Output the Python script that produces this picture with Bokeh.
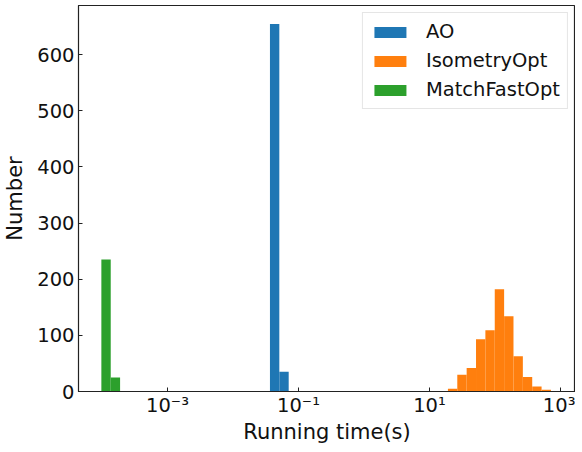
import numpy as np
from bokeh.plotting import figure
from bokeh.models import ColumnDataSource, Range1d, FixedTicker
from bokeh.embed import file_html
from bokeh.resources import INLINE

# ---- data (histogram counts on common log-spaced bins) ----
log_bin_start = -4.01      # log10 of first bin edge (s)
log_bin_width = 0.143      # bin width in decades
series_names = ["AO", "IsometryOpt", "MatchFastOpt"]
series_colors = ["#1f77b4", "#ff7f0e", "#2ca02c"]

ao_bins = [18, 19]
ao_counts = [655, 35]

iso_bins = [37, 38, 39, 40, 41, 42, 43, 44, 45, 46, 47]
iso_counts = [5, 30, 42, 93, 109, 182, 134, 63, 26, 9, 3]

mfo_bins = [0, 1]
mfo_counts = [235, 25]

x_ticks = [1e-3, 1e-1, 1e1, 1e3]
x_tick_labels = ["10\u207b\u00b3", "10\u207b\u00b9", "10\u00b9", "10\u00b3"]
y_ticks = [0, 100, 200, 300, 400, 500, 600]

FONT = "DejaVu Sans"
TICK_FS = "19.5px"
LABEL_FS = "21px"
LEGEND_FS = "19.5px"

FRAME_W = 497
DECADE_PX = 65.5
x_lo = -4.359
x_hi = x_lo + FRAME_W / DECADE_PX

p = figure(
    x_axis_type="log",
    output_backend="svg",
    toolbar_location=None,
    width=566,
    height=436,
    frame_width=FRAME_W,
    frame_height=386,
    min_border_left=69,
    min_border_top=5,
    min_border_right=0,
    min_border_bottom=45,
    x_range=Range1d(10 ** x_lo, 10 ** x_hi),
    y_range=Range1d(0, 655 * 1.05),
)

for name, color, bins, counts in zip(
    series_names, series_colors,
    [ao_bins, iso_bins, mfo_bins],
    [ao_counts, iso_counts, mfo_counts],
):
    b = np.array(bins, dtype=float)
    src = ColumnDataSource(dict(
        left=10 ** (log_bin_start + b * log_bin_width),
        right=10 ** (log_bin_start + (b + 1) * log_bin_width),
        top=np.array(counts, dtype=float),
        bottom=np.zeros(len(counts)),
    ))
    p.quad(left="left", right="right", top="top", bottom="bottom", source=src,
           fill_color=color, line_color=None, legend_label=name)

p.xgrid.visible = False
p.ygrid.visible = False
p.outline_line_color = "#222222"
p.outline_line_width = 1.2

p.xaxis.ticker = FixedTicker(ticks=x_ticks, minor_ticks=[])
p.xaxis.major_label_overrides = {t: l for t, l in zip(x_ticks, x_tick_labels)}
p.yaxis.ticker = FixedTicker(ticks=y_ticks, minor_ticks=[])

for ax in (p.xaxis[0], p.yaxis[0]):
    ax.major_tick_in = 4
    ax.major_tick_out = 0
    ax.minor_tick_line_color = None
    ax.axis_line_color = "#222222"
    ax.major_tick_line_color = "#222222"
    ax.major_label_text_font = FONT
    ax.major_label_text_font_size = TICK_FS
    ax.major_label_text_color = "#111111"
    ax.axis_label_text_font = FONT
    ax.axis_label_text_font_size = LABEL_FS
    ax.axis_label_text_font_style = "normal"
    ax.axis_label_text_color = "#111111"

p.xaxis.axis_label = "Running time(s)"
p.yaxis.axis_label = "Number"
p.xaxis.major_label_standoff = 2
p.xaxis.axis_label_standoff = 0
p.yaxis.major_label_standoff = 4
p.yaxis.axis_label_standoff = 7

lg = p.legend[0]
lg.location = "top_right"
lg.margin = 7
lg.padding = 7
lg.spacing = 6
lg.glyph_width = 40
lg.glyph_height = 14
lg.label_standoff = 16
lg.label_text_font = FONT
lg.label_text_font_size = LEGEND_FS
lg.label_text_color = "#111111"
lg.border_line_color = "#cccccc"
lg.border_line_width = 1
lg.background_fill_alpha = 0.8

open("out.html", "w").write(file_html(p, INLINE))
